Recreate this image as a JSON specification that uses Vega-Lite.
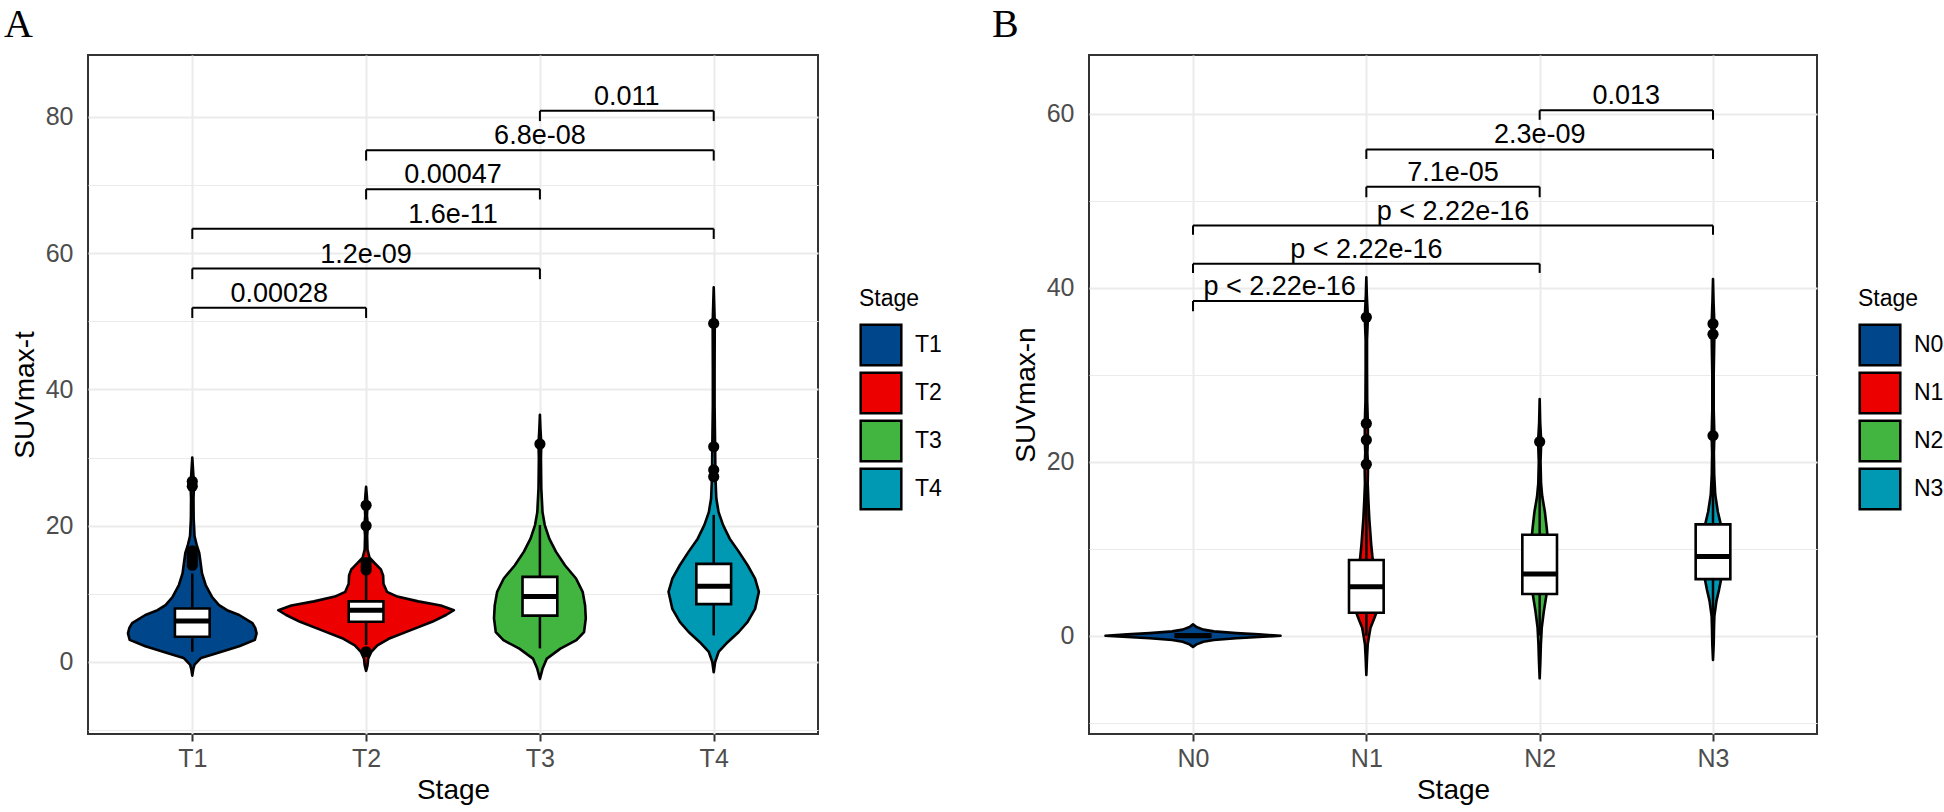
{
"$schema": "https://vega.github.io/schema/vega-lite/v6.json",
"padding": {"left": 3, "top": 4, "right": 0, "bottom": 0},
"spacing": 48,
"background": "white",
"config": {
 "view": {"stroke": "#333333", "strokeWidth": 2},
 "font": "Liberation Sans",
 "axis": {"domain": false, "grid": true, "gridColor": "#EBEBEB", "tickColor": "#333333", "tickWidth": 2, "tickSize": 7, "labelColor": "#4D4D4D", "labelFontSize": 25, "labelFont": "Liberation Sans", "titleFont": "Liberation Sans", "titleFontSize": 28, "titleFontWeight": "normal", "titleColor": "black"},
 "axisX": {"gridWidth": 2, "labelPadding": 5, "titlePadding": 5},
 "axisY": {"labelPadding": 8, "titlePadding": 6, "labelExpr": "datum.value % 20 === 0 ? datum.label : ''", "gridWidth": {"condition": {"test": "datum.value % 20 === 0", "value": 2}, "value": 1}, "tickOpacity": {"condition": {"test": "datum.value % 20 === 0", "value": 1}, "value": 0}},
 "legend": {"titleFontSize": 23, "titleFontWeight": "normal", "titleColor": "black", "titleFont": "Liberation Sans", "labelFont": "Liberation Sans", "labelFontSize": 23, "labelColor": "black", "symbolType": "square", "symbolSize": 1650, "symbolStrokeColor": "black", "symbolStrokeWidth": 2.5, "symbolOpacity": 1, "rowPadding": -5, "labelOffset": 12, "titlePadding": 12}
},
"datasets": {
 "violinA": [
  {"g":"T1","v":-2.0,"d":0},{"g":"T1","v":-1.0,"d":0.006},{"g":"T1","v":-0.4,"d":0.013},{"g":"T1","v":0.6,"d":0.05},{"g":"T1","v":1.3,"d":0.14},{"g":"T1","v":2.3,"d":0.27},{"g":"T1","v":3.25,"d":0.36},{"g":"T1","v":4.2,"d":0.37},{"g":"T1","v":5.0,"d":0.362},{"g":"T1","v":5.7,"d":0.346},{"g":"T1","v":6.9,"d":0.27},{"g":"T1","v":7.6,"d":0.2},{"g":"T1","v":8.35,"d":0.154},{"g":"T1","v":9.5,"d":0.115},{"g":"T1","v":11.3,"d":0.077},{"g":"T1","v":13,"d":0.056},{"g":"T1","v":14.9,"d":0.046},{"g":"T1","v":16,"d":0.04},{"g":"T1","v":17.1,"d":0.026},{"g":"T1","v":18.5,"d":0.013},{"g":"T1","v":21,"d":0.008},{"g":"T1","v":24,"d":0.007},{"g":"T1","v":26,"d":0.01},{"g":"T1","v":27.5,"d":0.006},{"g":"T1","v":30,"d":0},
  {"g":"T2","v":-1.3,"d":0},{"g":"T2","v":-0.5,"d":0.008},{"g":"T2","v":0.5,"d":0.012},{"g":"T2","v":1.5,"d":0.03},{"g":"T2","v":2.45,"d":0.065},{"g":"T2","v":3.4,"d":0.13},{"g":"T2","v":4.6,"d":0.25},{"g":"T2","v":5.9,"d":0.38},{"g":"T2","v":6.9,"d":0.46},{"g":"T2","v":7.6,"d":0.505},{"g":"T2","v":8.3,"d":0.43},{"g":"T2","v":8.9,"d":0.3},{"g":"T2","v":9.6,"d":0.18},{"g":"T2","v":10.3,"d":0.12},{"g":"T2","v":11.5,"d":0.1},{"g":"T2","v":12.7,"d":0.098},{"g":"T2","v":13.6,"d":0.085},{"g":"T2","v":14.5,"d":0.05},{"g":"T2","v":15.3,"d":0.02},{"g":"T2","v":16.5,"d":0.008},{"g":"T2","v":18.5,"d":0.006},{"g":"T2","v":20,"d":0.01},{"g":"T2","v":21.5,"d":0.005},{"g":"T2","v":23,"d":0.008},{"g":"T2","v":24.5,"d":0.004},{"g":"T2","v":25.7,"d":0},
  {"g":"T3","v":-2.5,"d":0},{"g":"T3","v":-1.0,"d":0.015},{"g":"T3","v":0.5,"d":0.04},{"g":"T3","v":1.96,"d":0.118},{"g":"T3","v":3.2,"d":0.21},{"g":"T3","v":4.4,"d":0.254},{"g":"T3","v":6.4,"d":0.264},{"g":"T3","v":8.3,"d":0.26},{"g":"T3","v":10.3,"d":0.246},{"g":"T3","v":12.25,"d":0.208},{"g":"T3","v":14.2,"d":0.144},{"g":"T3","v":16.2,"d":0.092},{"g":"T3","v":18.1,"d":0.054},{"g":"T3","v":20.1,"d":0.028},{"g":"T3","v":22,"d":0.015},{"g":"T3","v":25.5,"d":0.008},{"g":"T3","v":29.9,"d":0.006},{"g":"T3","v":32,"d":0.008},{"g":"T3","v":34.3,"d":0.003},{"g":"T3","v":36.3,"d":0},
  {"g":"T4","v":-1.5,"d":0},{"g":"T4","v":0,"d":0.008},{"g":"T4","v":1.47,"d":0.028},{"g":"T4","v":2.9,"d":0.08},{"g":"T4","v":4.4,"d":0.144},{"g":"T4","v":5.9,"d":0.195},{"g":"T4","v":7.8,"d":0.238},{"g":"T4","v":10.3,"d":0.26},{"g":"T4","v":12.25,"d":0.238},{"g":"T4","v":14.2,"d":0.195},{"g":"T4","v":16.2,"d":0.144},{"g":"T4","v":18.1,"d":0.092},{"g":"T4","v":20.1,"d":0.054},{"g":"T4","v":22,"d":0.028},{"g":"T4","v":24,"d":0.015},{"g":"T4","v":27,"d":0.01},{"g":"T4","v":31.9,"d":0.008},{"g":"T4","v":37.7,"d":0.005},{"g":"T4","v":42.6,"d":0.005},{"g":"T4","v":49.7,"d":0.006},{"g":"T4","v":55,"d":0}
 ],
 "boxA": [
  {"g":"T1","lo":1.5,"q1":3.7,"med":6.0,"q3":7.85,"hi":13.0},
  {"g":"T2","lo":2.5,"q1":5.9,"med":7.6,"q3":8.9,"hi":13.0},
  {"g":"T3","lo":2.0,"q1":6.8,"med":9.6,"q3":12.5,"hi":20.1},
  {"g":"T4","lo":3.9,"q1":8.5,"med":11.1,"q3":14.4,"hi":21.6}
 ],
 "outA": [
  {"g":"T1","v":14.2},{"g":"T1","v":14.7},{"g":"T1","v":15.2},{"g":"T1","v":15.7},{"g":"T1","v":16.3},{"g":"T1","v":25.8},{"g":"T1","v":26.5},
  {"g":"T2","v":1.5},{"g":"T2","v":13.5},{"g":"T2","v":14.0},{"g":"T2","v":14.6},{"g":"T2","v":20.0},{"g":"T2","v":23.0},
  {"g":"T3","v":32.0},
  {"g":"T4","v":27.2},{"g":"T4","v":28.2},{"g":"T4","v":31.6},{"g":"T4","v":49.7}
 ],
 "brA": [
  {"a":"T1","b":"T2","y":52.0,"y0":50.5,"p":"0.00028"},
  {"a":"T1","b":"T3","y":57.75,"y0":56.2,"p":"1.2e-09"},
  {"a":"T1","b":"T4","y":63.6,"y0":62.1,"p":"1.6e-11"},
  {"a":"T2","b":"T3","y":69.4,"y0":67.9,"p":"0.00047"},
  {"a":"T2","b":"T4","y":75.1,"y0":73.6,"p":"6.8e-08"},
  {"a":"T3","b":"T4","y":80.9,"y0":79.4,"p":"0.011"}
 ],
 "violinB": [
  {"g":"N0","v":-1.3,"d":0},{"g":"N0","v":-1.0,"d":0.02},{"g":"N0","v":-0.7,"d":0.06},{"g":"N0","v":-0.5,"d":0.12},{"g":"N0","v":-0.3,"d":0.25},{"g":"N0","v":-0.15,"d":0.38},{"g":"N0","v":0,"d":0.505},{"g":"N0","v":0.15,"d":0.38},{"g":"N0","v":0.3,"d":0.25},{"g":"N0","v":0.5,"d":0.12},{"g":"N0","v":0.7,"d":0.06},{"g":"N0","v":1.0,"d":0.02},{"g":"N0","v":1.3,"d":0},
  {"g":"N1","v":-4.5,"d":0},{"g":"N1","v":-2.5,"d":0.004},{"g":"N1","v":-1.0,"d":0.008},{"g":"N1","v":0,"d":0.016},{"g":"N1","v":0.92,"d":0.024},{"g":"N1","v":1.8,"d":0.042},{"g":"N1","v":2.64,"d":0.058},{"g":"N1","v":4,"d":0.06},{"g":"N1","v":5.6,"d":0.055},{"g":"N1","v":7.5,"d":0.045},{"g":"N1","v":8.9,"d":0.036},{"g":"N1","v":10.5,"d":0.028},{"g":"N1","v":11.6,"d":0.024},{"g":"N1","v":13.5,"d":0.017},{"g":"N1","v":15.5,"d":0.012},{"g":"N1","v":17.5,"d":0.008},{"g":"N1","v":19.6,"d":0.01},{"g":"N1","v":21,"d":0.006},{"g":"N1","v":22.5,"d":0.009},{"g":"N1","v":24.3,"d":0.009},{"g":"N1","v":27,"d":0.005},{"g":"N1","v":31,"d":0.004},{"g":"N1","v":34,"d":0.004},{"g":"N1","v":36.6,"d":0.009},{"g":"N1","v":39,"d":0.003},{"g":"N1","v":41.2,"d":0},
  {"g":"N2","v":-4.9,"d":0},{"g":"N2","v":-3,"d":0.004},{"g":"N2","v":-1.0,"d":0.007},{"g":"N2","v":0.9,"d":0.012},{"g":"N2","v":2.8,"d":0.024},{"g":"N2","v":4.8,"d":0.04},{"g":"N2","v":7,"d":0.05},{"g":"N2","v":9.5,"d":0.052},{"g":"N2","v":11.5,"d":0.045},{"g":"N2","v":12.5,"d":0.04},{"g":"N2","v":14.25,"d":0.03},{"g":"N2","v":16,"d":0.015},{"g":"N2","v":17.5,"d":0.008},{"g":"N2","v":20,"d":0.005},{"g":"N2","v":22.3,"d":0.009},{"g":"N2","v":24.5,"d":0.003},{"g":"N2","v":27.2,"d":0},
  {"g":"N3","v":-2.8,"d":0},{"g":"N3","v":-1.0,"d":0.004},{"g":"N3","v":1.0,"d":0.006},{"g":"N3","v":2.26,"d":0.008},{"g":"N3","v":4.0,"d":0.02},{"g":"N3","v":5.3,"d":0.035},{"g":"N3","v":6.6,"d":0.048},{"g":"N3","v":8.5,"d":0.055},{"g":"N3","v":10.5,"d":0.055},{"g":"N3","v":12.8,"d":0.045},{"g":"N3","v":14.25,"d":0.028},{"g":"N3","v":16.2,"d":0.013},{"g":"N3","v":18.5,"d":0.007},{"g":"N3","v":21,"d":0.005},{"g":"N3","v":23,"d":0.008},{"g":"N3","v":26,"d":0.004},{"g":"N3","v":30,"d":0.004},{"g":"N3","v":34.6,"d":0.008},{"g":"N3","v":35.8,"d":0.008},{"g":"N3","v":38.5,"d":0.003},{"g":"N3","v":41,"d":0}
 ],
 "boxB": [
  {"g":"N0","lo":0,"q1":-0.12,"med":0,"q3":0.12,"hi":0},
  {"g":"N1","lo":0.0,"q1":2.64,"med":5.63,"q3":8.7,"hi":17.5},
  {"g":"N2","lo":0.0,"q1":4.8,"med":7.1,"q3":11.6,"hi":20.5},
  {"g":"N3","lo":1.5,"q1":6.5,"med":9.1,"q3":12.8,"hi":22.0}
 ],
 "outB": [
  {"g":"N1","v":19.7},{"g":"N1","v":22.5},{"g":"N1","v":24.4},{"g":"N1","v":36.6},
  {"g":"N2","v":22.3},
  {"g":"N3","v":23.0},{"g":"N3","v":34.65},{"g":"N3","v":35.85}
 ],
 "brB": [
  {"a":"N0","b":"N1","y":38.47,"y0":37.3,"p":"p < 2.22e-16"},
  {"a":"N0","b":"N2","y":42.75,"y0":41.7,"p":"p < 2.22e-16"},
  {"a":"N0","b":"N3","y":47.15,"y0":46.1,"p":"p < 2.22e-16"},
  {"a":"N1","b":"N2","y":51.6,"y0":50.4,"p":"7.1e-05"},
  {"a":"N1","b":"N3","y":55.9,"y0":54.8,"p":"2.3e-09"},
  {"a":"N2","b":"N3","y":60.4,"y0":59.3,"p":"0.013"}
 ]
},
"hconcat": [
 {
  "width": 730, "height": 679,
  "title": {"text": "A", "anchor": "start", "frame": "group", "dx": -84, "offset": -22, "baseline": "alphabetic", "font": "Liberation Serif", "fontSize": 40, "fontWeight": "normal", "color": "black"},
  "layer": [
   {
    "data": {"name": "violinA"},
    "transform": [{"calculate": "indexof(['T1','T2','T3','T4'], datum.g) + 1", "as": "i"}, {"calculate": "datum.i - datum.d", "as": "xl"}, {"calculate": "datum.i + datum.d", "as": "xr"}],
    "mark": {"type": "area", "orient": "horizontal", "stroke": "black", "strokeWidth": 2.6, "strokeJoin": "round", "fillOpacity": 1, "opacity": 1},
    "encoding": {
     "y": {"field": "v", "type": "quantitative", "scale": {"domain": [-10.57, 89.1], "nice": false, "zero": false}, "axis": {"values": [-10,0,10,20,30,40,50,60,70,80], "title": "SUVmax-t"}},
     "x": {"field": "xl", "type": "quantitative", "scale": {"domain": [0.4, 4.6], "nice": false, "zero": false}, "axis": {"values": [1,2,3,4], "title": "Stage", "labelExpr": "['T1','T2','T3','T4'][datum.value - 1]"}},
     "x2": {"field": "xr"},
     "color": {"field": "g", "type": "nominal", "scale": {"domain": ["T1","T2","T3","T4"], "range": ["#00468B","#ED0000","#42B540","#0099B4"]}, "legend": {"title": "Stage", "orient": "none", "legendX": 771, "legendY": 233}}
    }
   },
   {
    "data": {"name": "boxA"},
    "transform": [{"calculate": "indexof(['T1','T2','T3','T4'], datum.g) + 1", "as": "i"}],
    "mark": {"type": "rule", "color": "black", "strokeWidth": 2.5},
    "encoding": {
     "x": {"field": "i", "type": "quantitative", "scale": {"domain": [0.4, 4.6], "nice": false, "zero": false}, "axis": {"values": [1,2,3,4], "title": "Stage", "labelExpr": "['T1','T2','T3','T4'][datum.value - 1]"}},
     "y": {"field": "lo", "type": "quantitative", "scale": {"domain": [-10.57, 89.1], "nice": false, "zero": false}, "axis": {"values": [-10,0,10,20,30,40,50,60,70,80], "title": "SUVmax-t"}},
     "y2": {"field": "hi"}
    }
   },
   {
    "data": {"name": "boxA"},
    "transform": [{"calculate": "indexof(['T1','T2','T3','T4'], datum.g) + 1", "as": "i"}, {"calculate": "datum.i - 0.1", "as": "bl"}, {"calculate": "datum.i + 0.1", "as": "br"}],
    "mark": {"type": "rect", "fill": "white", "stroke": "black", "strokeWidth": 2.6},
    "encoding": {
     "x": {"field": "bl", "type": "quantitative", "scale": {"domain": [0.4, 4.6], "nice": false, "zero": false}, "axis": {"values": [1,2,3,4], "title": "Stage", "labelExpr": "['T1','T2','T3','T4'][datum.value - 1]"}},
     "x2": {"field": "br"},
     "y": {"field": "q1", "type": "quantitative", "scale": {"domain": [-10.57, 89.1], "nice": false, "zero": false}, "axis": {"values": [-10,0,10,20,30,40,50,60,70,80], "title": "SUVmax-t"}},
     "y2": {"field": "q3"}
    }
   },
   {
    "data": {"name": "boxA"},
    "transform": [{"calculate": "indexof(['T1','T2','T3','T4'], datum.g) + 1", "as": "i"}, {"calculate": "datum.i - 0.1", "as": "bl"}, {"calculate": "datum.i + 0.1", "as": "br"}],
    "mark": {"type": "rule", "color": "black", "strokeWidth": 5},
    "encoding": {
     "x": {"field": "bl", "type": "quantitative", "scale": {"domain": [0.4, 4.6], "nice": false, "zero": false}, "axis": {"values": [1,2,3,4], "title": "Stage", "labelExpr": "['T1','T2','T3','T4'][datum.value - 1]"}},
     "x2": {"field": "br"},
     "y": {"field": "med", "type": "quantitative", "scale": {"domain": [-10.57, 89.1], "nice": false, "zero": false}, "axis": {"values": [-10,0,10,20,30,40,50,60,70,80], "title": "SUVmax-t"}}
    }
   },
   {
    "data": {"name": "outA"},
    "transform": [{"calculate": "indexof(['T1','T2','T3','T4'], datum.g) + 1", "as": "i"}],
    "mark": {"type": "point", "filled": true, "color": "black", "size": 125, "opacity": 1},
    "encoding": {
     "x": {"field": "i", "type": "quantitative", "scale": {"domain": [0.4, 4.6], "nice": false, "zero": false}, "axis": {"values": [1,2,3,4], "title": "Stage", "labelExpr": "['T1','T2','T3','T4'][datum.value - 1]"}},
     "y": {"field": "v", "type": "quantitative", "scale": {"domain": [-10.57, 89.1], "nice": false, "zero": false}, "axis": {"values": [-10,0,10,20,30,40,50,60,70,80], "title": "SUVmax-t"}}
    }
   },
   {
    "data": {"name": "brA"},
    "transform": [{"calculate": "indexof(['T1','T2','T3','T4'], datum.a) + 1", "as": "ia"}, {"calculate": "indexof(['T1','T2','T3','T4'], datum.b) + 1", "as": "ib"}],
    "mark": {"type": "rule", "color": "black", "strokeWidth": 2},
    "encoding": {
     "x": {"field": "ia", "type": "quantitative", "scale": {"domain": [0.4, 4.6], "nice": false, "zero": false}, "axis": {"values": [1,2,3,4], "title": "Stage", "labelExpr": "['T1','T2','T3','T4'][datum.value - 1]"}},
     "x2": {"field": "ib"},
     "y": {"field": "y", "type": "quantitative", "scale": {"domain": [-10.57, 89.1], "nice": false, "zero": false}, "axis": {"values": [-10,0,10,20,30,40,50,60,70,80], "title": "SUVmax-t"}}
    }
   },
   {
    "data": {"name": "brA"},
    "transform": [{"calculate": "indexof(['T1','T2','T3','T4'], datum.a) + 1", "as": "ia"}],
    "mark": {"type": "rule", "color": "black", "strokeWidth": 2},
    "encoding": {
     "x": {"field": "ia", "type": "quantitative", "scale": {"domain": [0.4, 4.6], "nice": false, "zero": false}, "axis": {"values": [1,2,3,4], "title": "Stage", "labelExpr": "['T1','T2','T3','T4'][datum.value - 1]"}},
     "y": {"field": "y", "type": "quantitative", "scale": {"domain": [-10.57, 89.1], "nice": false, "zero": false}, "axis": {"values": [-10,0,10,20,30,40,50,60,70,80], "title": "SUVmax-t"}},
     "y2": {"field": "y0"}
    }
   },
   {
    "data": {"name": "brA"},
    "transform": [{"calculate": "indexof(['T1','T2','T3','T4'], datum.b) + 1", "as": "ib"}],
    "mark": {"type": "rule", "color": "black", "strokeWidth": 2},
    "encoding": {
     "x": {"field": "ib", "type": "quantitative", "scale": {"domain": [0.4, 4.6], "nice": false, "zero": false}, "axis": {"values": [1,2,3,4], "title": "Stage", "labelExpr": "['T1','T2','T3','T4'][datum.value - 1]"}},
     "y": {"field": "y", "type": "quantitative", "scale": {"domain": [-10.57, 89.1], "nice": false, "zero": false}, "axis": {"values": [-10,0,10,20,30,40,50,60,70,80], "title": "SUVmax-t"}},
     "y2": {"field": "y0"}
    }
   },
   {
    "data": {"name": "brA"},
    "transform": [{"calculate": "(indexof(['T1','T2','T3','T4'], datum.a) + indexof(['T1','T2','T3','T4'], datum.b)) / 2 + 1", "as": "mid"}],
    "mark": {"type": "text", "color": "black", "fontSize": 27, "font": "Liberation Sans", "baseline": "alphabetic", "align": "center", "dy": -6},
    "encoding": {
     "x": {"field": "mid", "type": "quantitative", "scale": {"domain": [0.4, 4.6], "nice": false, "zero": false}, "axis": {"values": [1,2,3,4], "title": "Stage", "labelExpr": "['T1','T2','T3','T4'][datum.value - 1]"}},
     "y": {"field": "y", "type": "quantitative", "scale": {"domain": [-10.57, 89.1], "nice": false, "zero": false}, "axis": {"values": [-10,0,10,20,30,40,50,60,70,80], "title": "SUVmax-t"}},
     "text": {"field": "p"}
    }
   }
  ]
 },
 {
  "width": 728, "height": 679,
  "title": {"text": "B", "anchor": "start", "frame": "group", "dx": -97, "offset": -22, "baseline": "alphabetic", "font": "Liberation Serif", "fontSize": 40, "fontWeight": "normal", "color": "black"},
  "layer": [
   {
    "data": {"name": "violinB"},
    "transform": [{"calculate": "indexof(['N0','N1','N2','N3'], datum.g) + 1", "as": "i"}, {"calculate": "datum.i - datum.d", "as": "xl"}, {"calculate": "datum.i + datum.d", "as": "xr"}],
    "mark": {"type": "area", "orient": "horizontal", "stroke": "black", "strokeWidth": 2.6, "strokeJoin": "round", "fillOpacity": 1, "opacity": 1},
    "encoding": {
     "y": {"field": "v", "type": "quantitative", "scale": {"domain": [-11.3, 66.75], "nice": false, "zero": false}, "axis": {"values": [-10,0,10,20,30,40,50,60], "title": "SUVmax-n"}},
     "x": {"field": "xl", "type": "quantitative", "scale": {"domain": [0.4, 4.6], "nice": false, "zero": false}, "axis": {"values": [1,2,3,4], "title": "Stage", "labelExpr": "['N0','N1','N2','N3'][datum.value - 1]"}},
     "x2": {"field": "xr"},
     "color": {"field": "g", "type": "nominal", "scale": {"domain": ["N0","N1","N2","N3"], "range": ["#00468B","#ED0000","#42B540","#0099B4"]}, "legend": {"title": "Stage", "orient": "none", "legendX": 769, "legendY": 233}}
    }
   },
   {
    "data": {"name": "boxB"},
    "transform": [{"calculate": "indexof(['N0','N1','N2','N3'], datum.g) + 1", "as": "i"}],
    "mark": {"type": "rule", "color": "black", "strokeWidth": 2.5},
    "encoding": {
     "x": {"field": "i", "type": "quantitative", "scale": {"domain": [0.4, 4.6], "nice": false, "zero": false}, "axis": {"values": [1,2,3,4], "title": "Stage", "labelExpr": "['N0','N1','N2','N3'][datum.value - 1]"}},
     "y": {"field": "lo", "type": "quantitative", "scale": {"domain": [-11.3, 66.75], "nice": false, "zero": false}, "axis": {"values": [-10,0,10,20,30,40,50,60], "title": "SUVmax-n"}},
     "y2": {"field": "hi"}
    }
   },
   {
    "data": {"name": "boxB"},
    "transform": [{"calculate": "indexof(['N0','N1','N2','N3'], datum.g) + 1", "as": "i"}, {"calculate": "datum.i - 0.1", "as": "bl"}, {"calculate": "datum.i + 0.1", "as": "br"}],
    "mark": {"type": "rect", "fill": "white", "stroke": "black", "strokeWidth": 2.6},
    "encoding": {
     "x": {"field": "bl", "type": "quantitative", "scale": {"domain": [0.4, 4.6], "nice": false, "zero": false}, "axis": {"values": [1,2,3,4], "title": "Stage", "labelExpr": "['N0','N1','N2','N3'][datum.value - 1]"}},
     "x2": {"field": "br"},
     "y": {"field": "q1", "type": "quantitative", "scale": {"domain": [-11.3, 66.75], "nice": false, "zero": false}, "axis": {"values": [-10,0,10,20,30,40,50,60], "title": "SUVmax-n"}},
     "y2": {"field": "q3"}
    }
   },
   {
    "data": {"name": "boxB"},
    "transform": [{"calculate": "indexof(['N0','N1','N2','N3'], datum.g) + 1", "as": "i"}, {"calculate": "datum.i - 0.1", "as": "bl"}, {"calculate": "datum.i + 0.1", "as": "br"}],
    "mark": {"type": "rule", "color": "black", "strokeWidth": 5},
    "encoding": {
     "x": {"field": "bl", "type": "quantitative", "scale": {"domain": [0.4, 4.6], "nice": false, "zero": false}, "axis": {"values": [1,2,3,4], "title": "Stage", "labelExpr": "['N0','N1','N2','N3'][datum.value - 1]"}},
     "x2": {"field": "br"},
     "y": {"field": "med", "type": "quantitative", "scale": {"domain": [-11.3, 66.75], "nice": false, "zero": false}, "axis": {"values": [-10,0,10,20,30,40,50,60], "title": "SUVmax-n"}}
    }
   },
   {
    "data": {"name": "outB"},
    "transform": [{"calculate": "indexof(['N0','N1','N2','N3'], datum.g) + 1", "as": "i"}],
    "mark": {"type": "point", "filled": true, "color": "black", "size": 125, "opacity": 1},
    "encoding": {
     "x": {"field": "i", "type": "quantitative", "scale": {"domain": [0.4, 4.6], "nice": false, "zero": false}, "axis": {"values": [1,2,3,4], "title": "Stage", "labelExpr": "['N0','N1','N2','N3'][datum.value - 1]"}},
     "y": {"field": "v", "type": "quantitative", "scale": {"domain": [-11.3, 66.75], "nice": false, "zero": false}, "axis": {"values": [-10,0,10,20,30,40,50,60], "title": "SUVmax-n"}}
    }
   },
   {
    "data": {"name": "brB"},
    "transform": [{"calculate": "indexof(['N0','N1','N2','N3'], datum.a) + 1", "as": "ia"}, {"calculate": "indexof(['N0','N1','N2','N3'], datum.b) + 1", "as": "ib"}],
    "mark": {"type": "rule", "color": "black", "strokeWidth": 2},
    "encoding": {
     "x": {"field": "ia", "type": "quantitative", "scale": {"domain": [0.4, 4.6], "nice": false, "zero": false}, "axis": {"values": [1,2,3,4], "title": "Stage", "labelExpr": "['N0','N1','N2','N3'][datum.value - 1]"}},
     "x2": {"field": "ib"},
     "y": {"field": "y", "type": "quantitative", "scale": {"domain": [-11.3, 66.75], "nice": false, "zero": false}, "axis": {"values": [-10,0,10,20,30,40,50,60], "title": "SUVmax-n"}}
    }
   },
   {
    "data": {"name": "brB"},
    "transform": [{"calculate": "indexof(['N0','N1','N2','N3'], datum.a) + 1", "as": "ia"}],
    "mark": {"type": "rule", "color": "black", "strokeWidth": 2},
    "encoding": {
     "x": {"field": "ia", "type": "quantitative", "scale": {"domain": [0.4, 4.6], "nice": false, "zero": false}, "axis": {"values": [1,2,3,4], "title": "Stage", "labelExpr": "['N0','N1','N2','N3'][datum.value - 1]"}},
     "y": {"field": "y", "type": "quantitative", "scale": {"domain": [-11.3, 66.75], "nice": false, "zero": false}, "axis": {"values": [-10,0,10,20,30,40,50,60], "title": "SUVmax-n"}},
     "y2": {"field": "y0"}
    }
   },
   {
    "data": {"name": "brB"},
    "transform": [{"calculate": "indexof(['N0','N1','N2','N3'], datum.b) + 1", "as": "ib"}],
    "mark": {"type": "rule", "color": "black", "strokeWidth": 2},
    "encoding": {
     "x": {"field": "ib", "type": "quantitative", "scale": {"domain": [0.4, 4.6], "nice": false, "zero": false}, "axis": {"values": [1,2,3,4], "title": "Stage", "labelExpr": "['N0','N1','N2','N3'][datum.value - 1]"}},
     "y": {"field": "y", "type": "quantitative", "scale": {"domain": [-11.3, 66.75], "nice": false, "zero": false}, "axis": {"values": [-10,0,10,20,30,40,50,60], "title": "SUVmax-n"}},
     "y2": {"field": "y0"}
    }
   },
   {
    "data": {"name": "brB"},
    "transform": [{"calculate": "(indexof(['N0','N1','N2','N3'], datum.a) + indexof(['N0','N1','N2','N3'], datum.b)) / 2 + 1", "as": "mid"}],
    "mark": {"type": "text", "color": "black", "fontSize": 27, "font": "Liberation Sans", "baseline": "alphabetic", "align": "center", "dy": -6},
    "encoding": {
     "x": {"field": "mid", "type": "quantitative", "scale": {"domain": [0.4, 4.6], "nice": false, "zero": false}, "axis": {"values": [1,2,3,4], "title": "Stage", "labelExpr": "['N0','N1','N2','N3'][datum.value - 1]"}},
     "y": {"field": "y", "type": "quantitative", "scale": {"domain": [-11.3, 66.75], "nice": false, "zero": false}, "axis": {"values": [-10,0,10,20,30,40,50,60], "title": "SUVmax-n"}},
     "text": {"field": "p"}
    }
   }
  ]
 }
],
"resolve": {"scale": {"color": "independent"}, "legend": {"color": "independent"}}
}
